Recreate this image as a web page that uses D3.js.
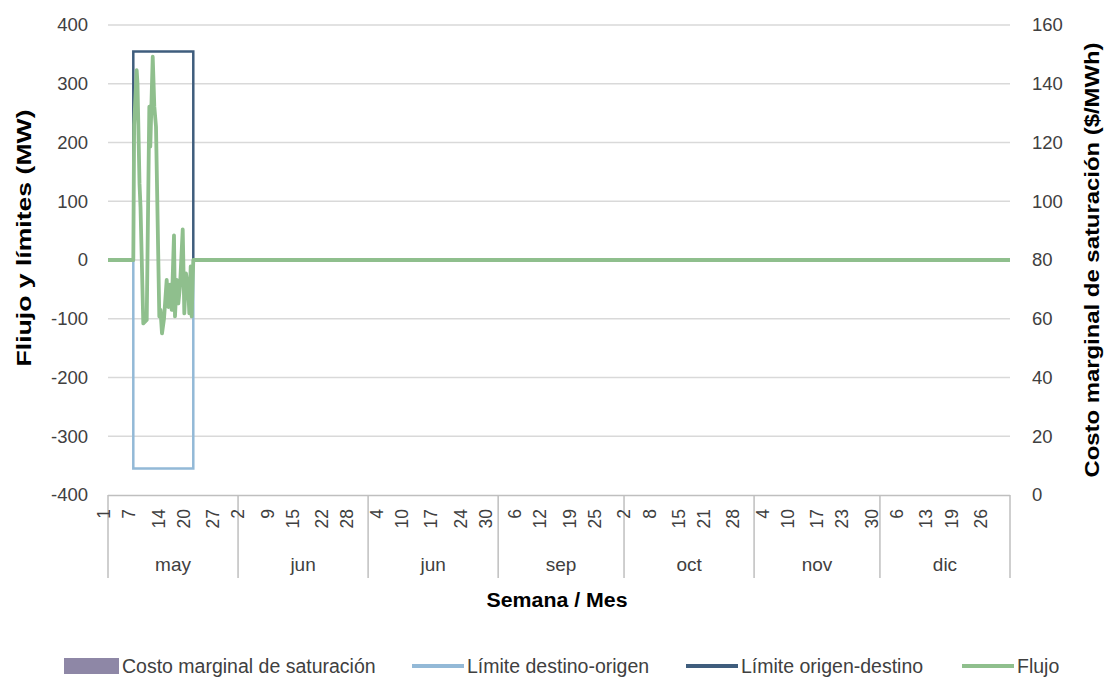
<!DOCTYPE html>
<html><head><meta charset="utf-8">
<script src="https://cdn.jsdelivr.net/npm/d3@7"></script>
<style>
body{margin:0;background:#fff}
text{font-family:"Liberation Sans",Arial,sans-serif;fill:#404040}
</style>
</head><body>
<svg id="chart" width="1109" height="681"></svg>
<script>
// ---------- data ----------
const months = ["may","jun","jun","sep","oct","nov","dic"];
const monthDays = [31,31,31,30,31,30,31];
const weekLabels = [
  [1,7,14,20,27],
  [2,9,15,22,28],
  [4,10,17,24,30],
  [6,12,19,25],
  [2,8,15,21,28],
  [4,10,17,23,30],
  [6,13,19,26]
];
const leftTicks = [-400,-300,-200,-100,0,100,200,300,400];
const rightTicks = [0,20,40,60,80,100,120,140,160];

// Flujo (MW), day index since start of period
const flowDays   = [0, 6.03, 6.23, 6.84, 7.03, 7.51, 7.75, 8.41, 9.23, 9.85, 10.08, 10.66, 11.04, 11.44, 12.23, 12.51, 12.87, 13.35, 13.99, 14.37, 14.78, 15.18, 15.73, 15.97, 16.38, 16.76, 17.16, 17.81, 18.19, 18.59, 19.14, 19.38, 19.71, 19.95, 20.33, 215];
const flowValues = [0, 0,    230,  323,  300,  130,  90,   -108, -102, 261,  193,   346,   261,   227,   -96,   -85,   -125,  -100,  -34,   -80,   -42,   -85,   42,    -96,   -34,   -74,   -45,   52,    -91,   -23,   -51,   -91,   -11,   -96,   0,     0];

// Límites (MW)
const limitDays = [0, 6.03, 6.03, 20.33, 20.33, 215];
const limiteOrigenDestino = [0, 0, 355, 355, 0, 0];
const limiteDestinoOrigen = [0, 0, -355, -355, 0, 0];

// Costo marginal de saturación ($/MWh) per month
const costoMarginal = [0,0,0,0,0,0,0];

const legendNames = ["Costo marginal de saturación","Límite destino-origen","Límite origen-destino","Flujo"];
const colors = {costo:"#8e87a6", destino:"#93b9d7", origen:"#3f5d7d", flujo:"#8fbf8d"};

// ---------- layout ----------
const svg = d3.select("#chart");
const L = 108, R = 1010, T = 25, B = 495;
const totalDays = d3.sum(monthDays);
const x = d3.scaleLinear().domain([0,totalDays]).range([L,R]);
const y = d3.scaleLinear().domain([-400,400]).range([B,T]);
const y2 = d3.scaleLinear().domain([0,160]).range([B,T]);
const monthStart = monthDays.map((d,i)=>d3.sum(monthDays.slice(0,i)));

// gridlines
svg.append("g").selectAll("line").data(leftTicks.filter(t=>t>-400)).join("line")
  .attr("x1",L).attr("x2",R).attr("y1",d=>y(d)).attr("y2",d=>y(d))
  .attr("stroke","#d9d9d9").attr("stroke-width",1.5);

// left axis labels
svg.append("g").selectAll("text").data(leftTicks).join("text")
  .attr("x",88).attr("y",d=>y(d)).attr("dy","0.35em").attr("text-anchor","end")
  .style("font-size","18.5px").text(d=>d);
// right axis labels
svg.append("g").selectAll("text").data(rightTicks).join("text")
  .attr("x",1032).attr("y",d=>y2(d)).attr("dy","0.35em").attr("text-anchor","start")
  .style("font-size","18.5px").text(d=>d);

// bars of costo marginal (zero height)
const xb = d3.scaleBand().domain(months.map((m,i)=>i)).range([L,R]).padding(0.3);
svg.append("g").selectAll("rect").data(costoMarginal).join("rect")
  .attr("x",(d,i)=>xb(i)).attr("width",xb.bandwidth())
  .attr("y",d=>y2(d)).attr("height",d=>y2(0)-y2(d)).attr("fill",colors.costo);

// category axis
const ax = svg.append("g");
ax.append("line").attr("x1",L).attr("x2",R).attr("y1",B+0.5).attr("y2",B+0.5)
  .attr("stroke","#bfbfbf").attr("stroke-width",1.5);
const bounds = monthStart.concat([totalDays]);
ax.selectAll("line.sep").data(bounds).join("line").attr("class","sep")
  .attr("x1",d=>x(d)).attr("x2",d=>x(d)).attr("y1",B).attr("y2",578)
  .attr("stroke","#bfbfbf").attr("stroke-width",1.5);
const weekData = [];
weekLabels.forEach((arr,i)=>arr.forEach(d=>weekData.push({m:i,d:d})));
ax.selectAll("text.wk").data(weekData).join("text").attr("class","wk")
  .attr("transform",d=>`translate(${x(monthStart[d.m]+d.d-1)},509) rotate(-90)`)
  .attr("dy","0.12em").attr("text-anchor","end").style("font-size","17.5px")
  .text(d=>d.d);
ax.selectAll("text.mo").data(months).join("text").attr("class","mo")
  .attr("x",(d,i)=>x(monthStart[i]+monthDays[i]/2)).attr("y",564).attr("dy","0.35em")
  .attr("text-anchor","middle").style("font-size","19px").text(d=>d);

// lines
const line = d3.line().x(d=>x(d[0])).y(d=>y(d[1]));
svg.append("path").datum(limitDays.map((d,i)=>[d,limiteDestinoOrigen[i]]))
  .attr("d",line).attr("fill","none").attr("stroke",colors.destino).attr("stroke-width",2.5);
svg.append("path").datum(limitDays.map((d,i)=>[d,limiteOrigenDestino[i]]))
  .attr("d",line).attr("fill","none").attr("stroke",colors.origen).attr("stroke-width",2.5);
svg.append("path").datum(flowDays.map((d,i)=>[d,flowValues[i]]))
  .attr("d",line).attr("fill","none").attr("stroke",colors.flujo).attr("stroke-width",3.8)
  .attr("stroke-linejoin","round");

// titles
svg.append("text").attr("transform","translate(24,238) rotate(-90)").attr("dy","0.35em")
  .attr("text-anchor","middle").style("font-size","20px").style("font-weight","bold")
  .attr("textLength",257).attr("lengthAdjust","spacingAndGlyphs")
  .style("fill","#000").text("Fliujo y límites (MW)");
svg.append("text").attr("transform","translate(1092,260) rotate(-90)").attr("dy","0.35em")
  .attr("text-anchor","middle").style("font-size","20px").style("font-weight","bold")
  .attr("textLength",435).attr("lengthAdjust","spacingAndGlyphs")
  .style("fill","#000").text("Costo marginal de saturación ($/MWh)");
svg.append("text").attr("x",557).attr("y",600).attr("dy","0.35em")
  .attr("text-anchor","middle").style("font-size","20px").style("font-weight","bold")
  .attr("textLength",141).attr("lengthAdjust","spacingAndGlyphs")
  .style("fill","#000").text("Semana / Mes");

// legend
const lg = svg.append("g");
const ly = 666;
const items = [
  {name:legendNames[0], type:"rect", c:colors.costo, sx:64, tx:122},
  {name:legendNames[1], type:"line", c:colors.destino, sx:412, tx:467},
  {name:legendNames[2], type:"line", c:colors.origen, sx:686, tx:741},
  {name:legendNames[3], type:"line", c:colors.flujo, sx:962, tx:1017}
];
items.forEach(it=>{
  if(it.type==="rect") lg.append("rect").attr("x",it.sx).attr("y",ly-8).attr("width",55).attr("height",16).attr("fill",it.c);
  else lg.append("line").attr("x1",it.sx).attr("x2",it.tx-3).attr("y1",ly).attr("y2",ly).attr("stroke",it.c).attr("stroke-width",4);
  lg.append("text").attr("x",it.tx).attr("y",ly).attr("dy","0.35em").style("font-size","19.5px").text(it.name);
});
</script>
</body></html>
